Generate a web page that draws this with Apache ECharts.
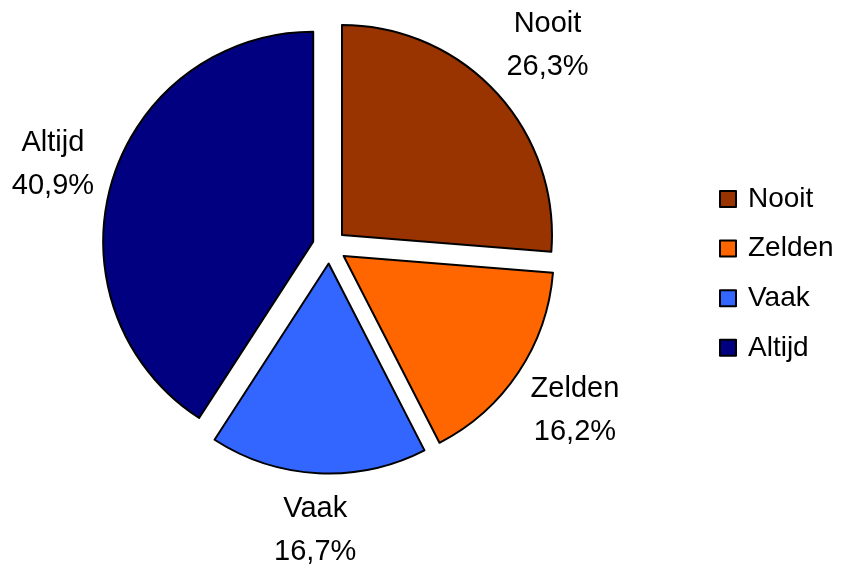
<!DOCTYPE html>
<html>
<head>
<meta charset="utf-8">
<script src="https://cdn.jsdelivr.net/npm/echarts@6/dist/echarts.min.js"></script>
<style>
html,body{margin:0;padding:0;background:#fff;}
#chart{width:841px;height:566px;}
</style>
</head>
<body>
<div id="chart"></div>
<script>
const categories = ['Nooit', 'Zelden', 'Vaak', 'Altijd'];
const values = [26.3, 16.2, 16.7, 40.9];
const colors = ['#993300', '#FF6600', '#3366FF', '#000080'];

const FONT = "'Liberation Sans', Arial, sans-serif";
const CX = 329.5, CY = 246.5, R = 210;
const total = values.reduce((a, b) => a + b, 0);

function labelPos(i) {
  let cum = 0;
  for (let j = 0; j < i; j++) cum += values[j];
  const mid = (cum + values[i] / 2) / total * 2 * Math.PI;
  const dx = Math.sin(mid), dy = -Math.cos(mid);
  const w = 74, h = 84;
  const ext = Math.abs(dx) * w / 2 + Math.abs(dy) * h / 2;
  const d = 241 + ext;
  return [CX + d * dx, CY + d * dy];
}

const chart = echarts.init(document.getElementById('chart'), null, {renderer: 'canvas'});
chart.setOption({
  animation: false,
  backgroundColor: '#ffffff',
  legend: {
    orient: 'vertical',
    left: 719,
    top: 185,
    padding: 0,
    itemWidth: 16,
    itemHeight: 16,
    itemGap: 21.6,
    icon: 'rect',
    selectedMode: false,
    data: categories,
    textStyle: {fontFamily: FONT, fontSize: 28, lineHeight: 27, color: '#000', padding: [0, 0, 0, 7]}
  },
  series: [{
    type: 'pie',
    center: [CX, CY],
    radius: R,
    startAngle: 90,
    clockwise: true,
    selectedMode: 'multiple',
    selectedOffset: 17,
    select: {itemStyle: {borderColor: '#000', borderWidth: 2}},
    emphasis: {disabled: true},
    itemStyle: {borderColor: '#000', borderWidth: 2},
    label: {show: false},
    labelLine: {show: false},
    data: categories.map((c, i) => ({
      name: c,
      value: values[i],
      selected: true,
      itemStyle: {color: colors[i]}
    }))
  }, {
    type: 'pie',
    center: [CX, CY],
    radius: R,
    startAngle: 90,
    clockwise: true,
    silent: true,
    selectedMode: false,
    emphasis: {disabled: true},
    itemStyle: {color: 'rgba(0,0,0,0)', borderWidth: 0},
    label: {
      show: true,
      position: 'inside',
      fontFamily: FONT,
      fontSize: 29,
      lineHeight: 43,
      color: '#000',
      textBorderWidth: 0,
      overflow: 'none',
      formatter: p => p.name + '\n' + values[p.dataIndex].toFixed(1).replace('.', ',') + '%'
    },
    labelLine: {show: false},
    labelLayout: function (p) {
      const pos = labelPos(p.dataIndex);
      return {x: pos[0], y: pos[1], align: 'center', verticalAlign: 'middle'};
    },
    data: categories.map((c, i) => ({name: c, value: values[i]}))
  }]
});
</script>
</body>
</html>
